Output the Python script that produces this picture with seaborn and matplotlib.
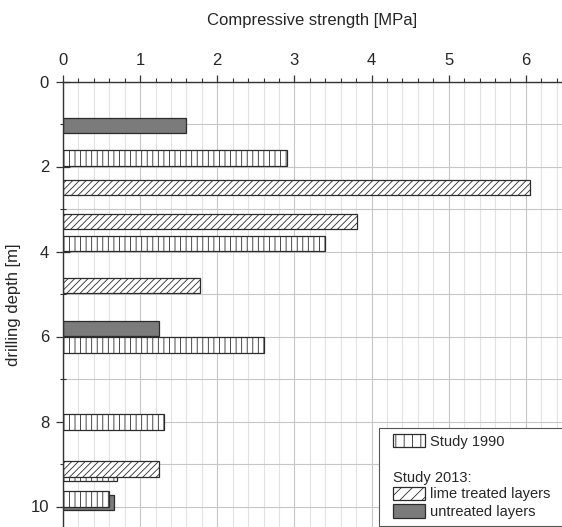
import numpy as np
import pandas as pd
import matplotlib
matplotlib.use("Agg")
import matplotlib.pyplot as plt
from matplotlib.patches import Patch, Rectangle
from matplotlib.ticker import MultipleLocator
import seaborn as sns

# ---- data (depth of bar centre [m], compressive strength [MPa]) ----
depth_1990 = [1.80, 3.81, 6.20, 8.01, 9.21, 9.82]
strength_1990 = [2.90, 3.40, 2.61, 1.31, 0.70, 0.60]

depth_lime = [2.49, 3.30, 4.80, 9.12]
strength_lime = [6.06, 3.81, 1.78, 1.25]

depth_untreated = [1.04, 5.81, 9.91]
strength_untreated = [1.59, 1.24, 0.66]

series_labels = ["Study 1990", "lime treated layers", "untreated layers"]
legend_group_title = "Study 2013:"
x_label = "Compressive strength [MPa]"
y_label = "drilling depth [m]"

BAR_H = 0.36

sns.set_style("white")
plt.rcParams["font.family"] = ["Liberation Sans", "DejaVu Sans"]
plt.rcParams["hatch.linewidth"] = 0.6

fig = plt.figure(figsize=(5.62, 5.27), dpi=100)
ax = fig.add_axes([63 / 562, 0, 499 / 562, (527 - 81.5) / 527])

edge = "#2b2b2b"
grey = "#7b7b7b"


def draw(depths, values, fc, hatch):
    df = pd.DataFrame({"depth": depths, "strength": values})
    d = np.unique(df["depth"])
    native = np.min(np.diff(d)) if len(d) > 1 else 1.0
    sns.barplot(data=df, x="strength", y="depth", orient="y", native_scale=True,
                width=BAR_H / native, errorbar=None, color=fc, saturation=1,
                edgecolor=edge, linewidth=0.9, hatch=hatch, ax=ax)


draw(depth_untreated, strength_untreated, grey, None)
draw(depth_1990, strength_1990, "white", "|||")
draw(depth_lime, strength_lime, "white", "/////")

ax.set_xlim(0, (562 - 63) / 77.13)
ax.set_ylim((527 - 81.5) / 42.5, 0)

ax.xaxis.tick_top()
ax.xaxis.set_label_position("top")
ax.xaxis.set_major_locator(MultipleLocator(1))
ax.xaxis.set_minor_locator(MultipleLocator(0.2))
ax.yaxis.set_major_locator(MultipleLocator(2))
ax.yaxis.set_minor_locator(MultipleLocator(1))

ax.tick_params(axis="x", which="major", direction="out", length=5, width=0.9,
               color="#333333", labelsize=12, pad=5, top=True, bottom=False)
ax.tick_params(axis="x", which="minor", direction="out", length=3, width=0.8,
               color="#333333", top=True, bottom=False)
ax.tick_params(axis="y", which="major", direction="inout", length=10, width=0.9,
               color="#333333", labelsize=12, pad=5, left=True)
ax.tick_params(axis="y", which="minor", direction="inout", length=5, width=0.8,
               color="#333333", left=True)

ax.set_xlabel(x_label, fontsize=12, labelpad=20)
ax.set_ylabel(y_label, fontsize=12, labelpad=7)

for s in ["right", "bottom"]:
    ax.spines[s].set_visible(False)
for s in ["left", "top"]:
    ax.spines[s].set_color("#333333")
    ax.spines[s].set_linewidth(1.0)

ax.set_axisbelow(True)
ax.grid(which="major", axis="both", color="#c6c6c6", linewidth=0.8)
ax.grid(which="minor", axis="x", color="#e2e2e2", linewidth=0.8)
ax.grid(which="minor", axis="y", color="#c6c6c6", linewidth=0.8)

# legend frame (extends past the right edge, as in the reference)
frame = Rectangle((379 / 562, 1 - 526 / 527), 0.5, (526 - 427.5) / 527,
                  transform=fig.transFigure, facecolor="white",
                  edgecolor="#555555", linewidth=0.8, clip_on=False, zorder=4.5)
ax.add_patch(frame)

handles = [
    Patch(facecolor="white", edgecolor=edge, hatch="||", linewidth=0.9),
    Patch(facecolor="none", edgecolor="none"),
    Patch(facecolor="none", edgecolor="none"),
    Patch(facecolor="white", edgecolor=edge, hatch="///", linewidth=0.9),
    Patch(facecolor=grey, edgecolor=edge, linewidth=0.9),
]
labels = [series_labels[0], "", "", series_labels[1], series_labels[2]]
leg = ax.legend(handles, labels, loc="upper left",
                bbox_to_anchor=(393 / 562, 1 - 434 / 527),
                bbox_transform=fig.transFigure,
                borderaxespad=0, borderpad=0, fontsize=10.5, frameon=False,
                handlelength=2.2, handleheight=1.03, handletextpad=0.35,
                labelspacing=0.2)
leg.set_zorder(5)

fig.text(393 / 562, 1 - 478 / 527, legend_group_title, fontsize=10.5,
         ha="left", va="center", zorder=6)

fig.savefig("out.png", dpi=100)
